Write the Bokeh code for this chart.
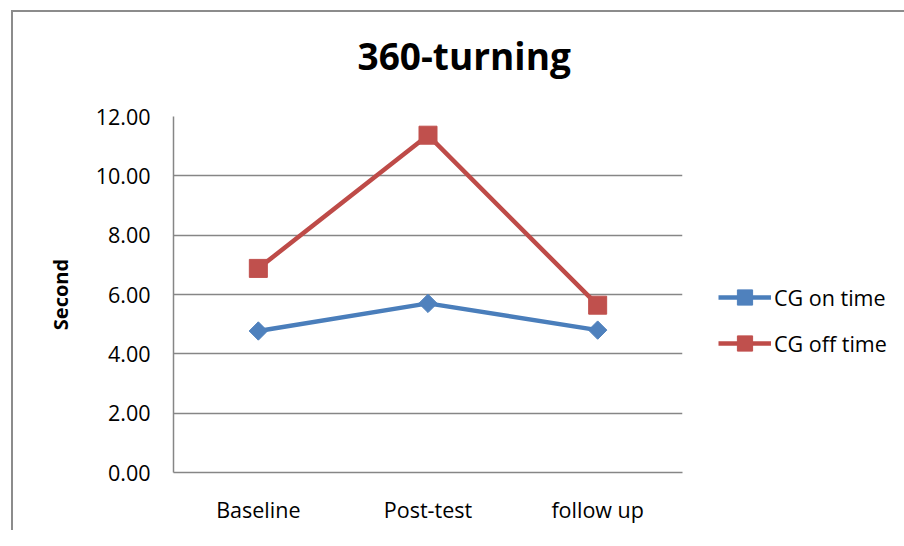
from bokeh.plotting import figure
from bokeh.models import Title, Legend, LegendItem, FactorRange, Range1d, FixedTicker, NumeralTickFormatter
from bokeh.embed import file_html
from bokeh.resources import INLINE
import math

categories = ["Baseline", "Post-test", "follow up"]
cg_on_time = [4.77, 5.70, 4.80]
cg_off_time = [6.88, 11.37, 5.64]
y_ticks = [0, 2, 4, 6, 8, 10, 12]

FONT = "Open Sans"
GRID = "#868686"
EDGE = "#8c8c8c"

p = figure(
    frame_width=509, frame_height=356,
    x_range=FactorRange(factors=categories),
    y_range=Range1d(0, 12),
    output_backend="svg", toolbar_location=None,
    min_border_left=173, min_border_right=214,
    min_border_top=126, min_border_bottom=58,
    outline_line_color=None,
    border_fill_color=None, background_fill_color=None,
    styles={
        "margin-top": "-10px",
        "overflow": "hidden",
        "background": (f"linear-gradient({EDGE},{EDGE}) 11px 20px / 2px 100% no-repeat, "
                       f"linear-gradient({EDGE},{EDGE}) 11px 20px / 100% 2px no-repeat, white"),
    },
)
p.title = None
t = Title(text="360-turning", align="left", offset=184, standoff=72,
          text_font=FONT, text_font_size="37px", text_font_style="bold", text_color="black")
p.add_layout(t, "above")

# grid
p.xgrid.grid_line_color = None
p.ygrid.grid_line_color = GRID
p.ygrid.grid_line_width = 1.3
p.ygrid.ticker = FixedTicker(ticks=y_ticks)

# y axis
p.yaxis.ticker = FixedTicker(ticks=y_ticks)
p.yaxis.formatter = NumeralTickFormatter(format="0.00")
p.yaxis.axis_label = "Second"
p.yaxis.axis_label_text_font = FONT
p.yaxis.axis_label_text_font_size = "20px"
p.yaxis.axis_label_text_font_style = "bold"
p.yaxis.axis_label_text_color = "black"
p.yaxis.axis_label_standoff = 19
p.yaxis.major_label_text_font = FONT
p.yaxis.major_label_text_font_size = "21.5px"
p.yaxis.major_label_text_color = "black"
p.yaxis.major_label_standoff = 23
p.yaxis.major_tick_out = 0
p.yaxis.major_tick_in = 0
p.yaxis.minor_tick_out = 0
p.yaxis.minor_tick_in = 0
p.yaxis.axis_line_color = GRID
p.yaxis.axis_line_width = 1.5

# x axis
p.xaxis.major_label_text_font = FONT
p.xaxis.major_label_text_font_size = "21.5px"
p.xaxis.major_label_text_color = "black"
p.xaxis.major_label_standoff = 22
p.xaxis.major_tick_out = 0
p.xaxis.major_tick_in = 0
p.xaxis.axis_line_color = GRID
p.xaxis.axis_line_width = 1.5

BLUE_L = "#4A7EBB"
BLUE_M = "#4F81BD"
RED_L = "#BE4B48"
RED_M = "#C0504D"

l1 = p.line(categories, cg_on_time, line_color=BLUE_L, line_width=4.5)
m1 = p.scatter(categories, cg_on_time, marker="square", angle=math.pi / 4, size=13,
               fill_color=BLUE_M, line_color=BLUE_M)
l2 = p.line(categories, cg_off_time, line_color=RED_L, line_width=4.5)
m2 = p.scatter(categories, cg_off_time, marker="square", size=18,
               fill_color=RED_M, line_color=RED_M)

legend = Legend(items=[LegendItem(label="CG on time", renderers=[l1, m1]),
                       LegendItem(label="CG off time", renderers=[l2, m2])],
                location=(36, 110), orientation="vertical",
                border_line_color=None, background_fill_alpha=0,
                padding=0, margin=0, spacing=8,
                glyph_width=53, glyph_height=38, label_standoff=3,
                label_text_font=FONT, label_text_font_size="21.5px",
                label_text_color="black")
p.add_layout(legend, "right")

open("out.html", "w").write(file_html(p, INLINE))
